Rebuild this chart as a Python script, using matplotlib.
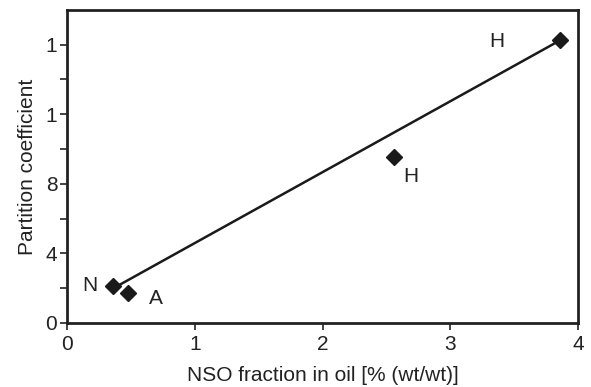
import matplotlib
matplotlib.use("Agg")
import matplotlib.pyplot as plt

plt.rcParams['font.family'] = ['Liberation Sans', 'DejaVu Sans']

# data
nso = [0.36, 0.48, 2.56, 3.86]
partition = [2.13, 1.71, 9.55, 16.26]
point_labels = ["N", "A", "H", "H"]
line_x = [0.41, 3.86]
line_y = [2.19, 16.26]
xticks = [0, 1, 2, 3, 4]
xticklabels = ["0", "1", "2", "3", "4"]
yticks_major = [0, 4, 8, 12, 16]
yticklabels = ["0", "4", "8", "1", "1"]
yticks_minor = [2, 6, 10, 14]

# label offsets in points (dx, dy)
label_offsets = [(-17, 0), (20, -4), (12, -14), (-46, -1)]

FS = 15
fig = plt.figure(figsize=(5.91, 3.87), dpi=100)
ax = fig.add_axes([0.1134, 0.1654, 0.865, 0.809])

ax.plot(line_x, line_y, color='#1a1a1a', lw=1.8, zorder=2)
ax.plot(nso, partition, linestyle='none', marker='D', ms=8.5,
        color='#1a1a1a', zorder=3)
for x, y, lab, off in zip(nso, partition, point_labels, label_offsets):
    ax.annotate(lab, (x, y), xytext=off, textcoords='offset points',
                ha='center', va='center', fontsize=FS, color='#222222')

ax.set_xlim(0, 4)
ax.set_ylim(0, 18)
ax.set_xticks(xticks)
ax.set_xticklabels(xticklabels)
ax.set_yticks(yticks_major)
ax.set_yticklabels(yticklabels)
ax.set_yticks(yticks_minor, minor=True)
ax.tick_params(axis='both', which='both', direction='out', length=5,
               width=1.2, labelsize=FS, colors='#222222', pad=2)
ax.tick_params(axis='x', which='major', pad=4)
ax.tick_params(axis='x', which='minor', bottom=False)

for s in ax.spines.values():
    s.set_linewidth(2)
    s.set_color('#222222')

ax.set_xlabel("NSO fraction in oil [% (wt/wt)]", fontsize=FS, color='#222222', labelpad=8)
ax.set_ylabel("Partition coefficient", fontsize=FS, color='#222222', labelpad=6)

fig.savefig("out.png", dpi=100)
